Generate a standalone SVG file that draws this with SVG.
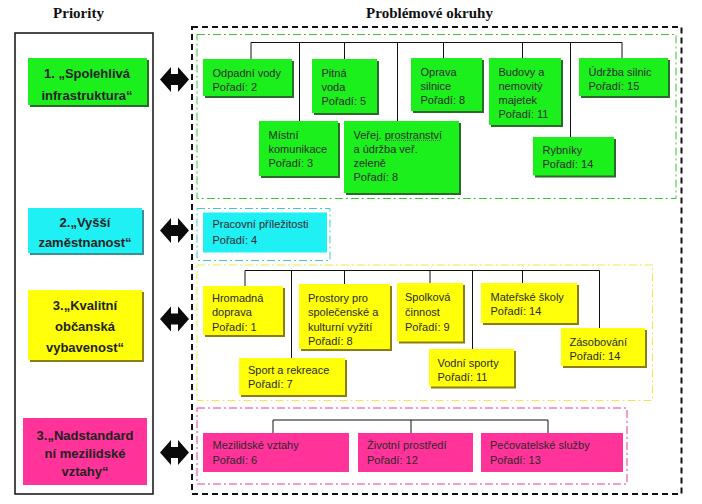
<svg xmlns="http://www.w3.org/2000/svg" width="702" height="504" viewBox="0 0 702 504">
<defs>
<style>
.title{font-family:"Liberation Serif","Times New Roman",serif;font-weight:bold;font-size:15px;fill:#111;text-anchor:middle}
.pt{font-family:"Liberation Sans",Arial,sans-serif;font-weight:bold;font-size:13px;fill:#222;text-anchor:middle}
.t{font-family:"Liberation Sans",Arial,sans-serif;font-size:11px;fill:#2a2a2a}
.g{fill:#1cf01c}
.gs{fill:#2b6a2b}
.c{fill:#1ff0f4}
.cs{fill:#3a8f99}
.y{fill:#ffff0a}
.ys{fill:#8c7d10}
.p{fill:#ff3399}
.con line{stroke:#111;stroke-width:1}
.arr{fill:#0a0a0a}
</style>
<path id="dblarrow" d="M0,0 L11,-12.5 L11,-5.5 L18,-5.5 L18,-12.5 L29,0 L18,12.5 L18,5.5 L11,5.5 L11,12.5 Z"/>
</defs>
<rect width="702" height="504" fill="#fff"/>

<text class="title" x="78.5" y="18">Priority</text>
<text class="title" x="429.5" y="18">Problémové okruhy</text>

<!-- frames -->
<rect x="15" y="33" width="138" height="461" fill="none" stroke="#111" stroke-width="1.5"/>
<rect x="192" y="27" width="489.5" height="467" fill="none" stroke="#111" stroke-width="2" stroke-dasharray="6,4"/>
<rect x="197" y="34.5" width="479" height="164" fill="none" stroke="#3bc43b" stroke-width="1" stroke-dasharray="8,3,2,3"/>
<rect x="197" y="208.5" width="133" height="52" fill="none" stroke="#40c8dc" stroke-width="1" stroke-dasharray="8,3,2,3"/>
<rect x="197" y="265" width="455.5" height="135.5" fill="none" stroke="#f0e84a" stroke-width="1" stroke-dasharray="8,3,2,3"/>
<rect x="197" y="408" width="430" height="76" fill="none" stroke="#e2409a" stroke-width="1" stroke-dasharray="8,3,2,3"/>

<!-- priorities -->
<g id="priority1">
<rect class="gs" x="30" y="60" width="119" height="47"/>
<rect class="g" x="28" y="58" width="119" height="47"/>
<text class="pt" x="87" y="78">1. „Spolehlivá</text>
<text class="pt" x="87" y="100">infrastruktura“</text>
</g>
<g id="priority2">
<rect class="cs" x="30" y="210" width="114" height="45"/>
<rect class="c" x="28" y="208" width="114" height="45"/>
<text class="pt" x="85" y="227">2.„Vyšší</text>
<text class="pt" x="85" y="247">zaměstnanost“</text>
</g>
<g id="priority3">
<rect class="ys" x="30" y="292" width="114" height="70"/>
<rect class="y" x="28" y="290" width="114" height="70"/>
<text class="pt" x="85" y="310">3.„Kvalitní</text>
<text class="pt" x="85" y="331">občanská</text>
<text class="pt" x="85" y="352">vybavenost“</text>
</g>
<g id="priority4">
<rect class="p" x="23" y="418" width="124" height="67"/>
<text class="pt" x="85" y="440">3.„Nadstandard</text>
<text class="pt" x="85" y="458">ní mezilidské</text>
<text class="pt" x="85" y="476">vztahy“</text>
</g>

<!-- connectors -->
<g id="connectors" class="con">
<g id="arrows" class="arr">
<use href="#dblarrow" x="160" y="79.5"/>
<use href="#dblarrow" x="160" y="230.5"/>
<use href="#dblarrow" x="160" y="319"/>
<use href="#dblarrow" x="160" y="452.5"/>
</g>
<line x1="251" y1="42.5" x2="622" y2="42.5"/>
<line x1="251" y1="42.5" x2="251" y2="59"/>
<line x1="299.5" y1="42.5" x2="299.5" y2="121"/>
<line x1="344.5" y1="42.5" x2="344.5" y2="59"/>
<line x1="397.5" y1="42.5" x2="397.5" y2="121"/>
<line x1="443.5" y1="42.5" x2="443.5" y2="58"/>
<line x1="522.5" y1="42.5" x2="522.5" y2="58"/>
<line x1="570.5" y1="42.5" x2="570.5" y2="137"/>
<line x1="622" y1="42.5" x2="622" y2="58"/>

<line x1="245" y1="270.5" x2="599.5" y2="270.5"/>
<line x1="245" y1="270.5" x2="245" y2="286"/>
<line x1="291.5" y1="270.5" x2="291.5" y2="358"/>
<line x1="344.5" y1="270.5" x2="344.5" y2="284"/>
<line x1="430" y1="270.5" x2="430" y2="283"/>
<line x1="472.5" y1="270.5" x2="472.5" y2="349"/>
<line x1="522.5" y1="270.5" x2="522.5" y2="283"/>
<line x1="599.5" y1="270.5" x2="599.5" y2="328"/>

<line x1="273" y1="420" x2="548" y2="420"/>
<line x1="273" y1="420" x2="273" y2="433"/>
<line x1="411" y1="420" x2="411" y2="433"/>
<line x1="548" y1="420" x2="548" y2="433"/>
</g>

<!-- green nodes -->
<g id="odpadni"><rect class="gs" x="205" y="61" width="89" height="37"/><rect class="g" x="203" y="59" width="89" height="37"/>
<text class="t" x="212.5" y="76.5">Odpadní vody</text><text class="t" x="212.5" y="90.5">Pořadí: 2</text></g>
<g id="pitna"><rect class="gs" x="314" y="61" width="65" height="54"/><rect class="g" x="312" y="59" width="65" height="54"/>
<text class="t" x="321.5" y="76.5">Pitná</text><text class="t" x="321.5" y="90.5">voda</text><text class="t" x="321.5" y="104.5">Pořadí: 5</text></g>
<g id="oprava"><rect class="gs" x="413" y="60" width="71" height="53"/><rect class="g" x="411" y="58" width="71" height="53"/>
<text class="t" x="420.5" y="76">Oprava</text><text class="t" x="420.5" y="90">silnice</text><text class="t" x="420.5" y="104">Pořadí: 8</text></g>
<g id="budovy"><rect class="gs" x="491" y="60" width="72" height="67"/><rect class="g" x="489" y="58" width="72" height="67"/>
<text class="t" x="498.5" y="76">Budovy a</text><text class="t" x="498.5" y="90">nemovitý</text><text class="t" x="498.5" y="104">majetek</text><text class="t" x="498.5" y="118">Pořadí: 11</text></g>
<g id="udrzba"><rect class="gs" x="581" y="60" width="89" height="38"/><rect class="g" x="579" y="58" width="89" height="38"/>
<text class="t" x="588.5" y="76">Údržba silnic</text><text class="t" x="588.5" y="90">Pořadí: 15</text></g>
<g id="mistni"><rect class="gs" x="261" y="123" width="79" height="55"/><rect class="g" x="259" y="121" width="79" height="55"/>
<text class="t" x="268.5" y="138.5">Místní</text><text class="t" x="268.5" y="152.5">komunikace</text><text class="t" x="268.5" y="166.5">Pořadí: 3</text></g>
<g id="verej"><rect class="gs" x="346" y="123" width="115" height="72"/><rect class="g" x="344" y="121" width="115" height="72"/>
<text class="t" x="353.5" y="138.5">Veřej. prostranství</text><text class="t" x="353.5" y="152.5">a údržba veř.</text><text class="t" x="353.5" y="166.5">zeleně</text><text class="t" x="353.5" y="180.5">Pořadí: 8</text>
<line x1="387" y1="140.5" x2="441" y2="140.5" stroke="#5a5a5a" stroke-width="1" stroke-dasharray="1,1"/></g>
<g id="rybniky"><rect class="gs" x="535" y="139" width="81" height="38.5"/><rect class="g" x="533" y="137" width="81" height="38.5"/>
<text class="t" x="542.5" y="154">Rybníky</text><text class="t" x="542.5" y="168">Pořadí: 14</text></g>

<!-- cyan node -->
<g id="pracovni"><rect class="c" x="203" y="212.5" width="124" height="40"/>
<text class="t" x="212.5" y="228">Pracovní příležitosti</text><text class="t" x="212.5" y="243.5">Pořadí: 4</text></g>

<!-- yellow nodes -->
<g id="hromadna"><rect class="ys" x="205" y="288" width="80" height="49"/><rect class="y" x="203" y="286" width="80" height="49"/>
<text class="t" x="212" y="301.5">Hromadná</text><text class="t" x="212" y="316">doprava</text><text class="t" x="212" y="330.5">Pořadí: 1</text></g>
<g id="prostory"><rect class="ys" x="301" y="286" width="91" height="65"/><rect class="y" x="299" y="284" width="91" height="65"/>
<text class="t" x="308" y="301.5">Prostory pro</text><text class="t" x="308" y="316">společenské a</text><text class="t" x="308" y="331">kulturní vyžití</text><text class="t" x="308" y="345">Pořadí: 8</text></g>
<g id="spolkova"><rect class="ys" x="399" y="285" width="66" height="58.5"/><rect class="y" x="397" y="283" width="66" height="58.5"/>
<text class="t" x="405" y="301">Spolková</text><text class="t" x="405" y="316">činnost</text><text class="t" x="405" y="331">Pořadí: 9</text></g>
<g id="materske"><rect class="ys" x="483" y="285" width="96" height="40"/><rect class="y" x="481" y="283" width="96" height="40"/>
<text class="t" x="490.5" y="301">Mateřské školy</text><text class="t" x="490.5" y="315">Pořadí: 14</text></g>
<g id="sport"><rect class="ys" x="241" y="360" width="106" height="37"/><rect class="y" x="239" y="358" width="106" height="37"/>
<text class="t" x="248" y="374">Sport a rekreace</text><text class="t" x="248" y="388">Pořadí: 7</text></g>
<g id="vodni"><rect class="ys" x="431" y="351" width="85" height="37.5"/><rect class="y" x="429" y="349" width="85" height="37.5"/>
<text class="t" x="437.5" y="366.5">Vodní sporty</text><text class="t" x="437.5" y="380.5">Pořadí: 11</text></g>
<g id="zasobovani"><rect class="ys" x="563" y="330" width="84" height="38"/><rect class="y" x="561" y="328" width="84" height="38"/>
<text class="t" x="569.5" y="345.5">Zásobování</text><text class="t" x="569.5" y="359.5">Pořadí: 14</text></g>

<!-- pink nodes -->
<g id="mezilidske"><rect class="p" x="203" y="433" width="146" height="39"/>
<text class="t" x="212.5" y="449">Mezilidské vztahy</text><text class="t" x="212.5" y="464">Pořadí: 6</text></g>
<g id="zivotni"><rect class="p" x="358" y="433" width="115" height="39"/>
<text class="t" x="367" y="449">Životní prostředí</text><text class="t" x="367" y="464">Pořadí: 12</text></g>
<g id="pecovatelske"><rect class="p" x="481" y="433" width="142" height="39"/>
<text class="t" x="490" y="449">Pečovatelské služby</text><text class="t" x="490" y="464">Pořadí: 13</text></g>
</svg>
